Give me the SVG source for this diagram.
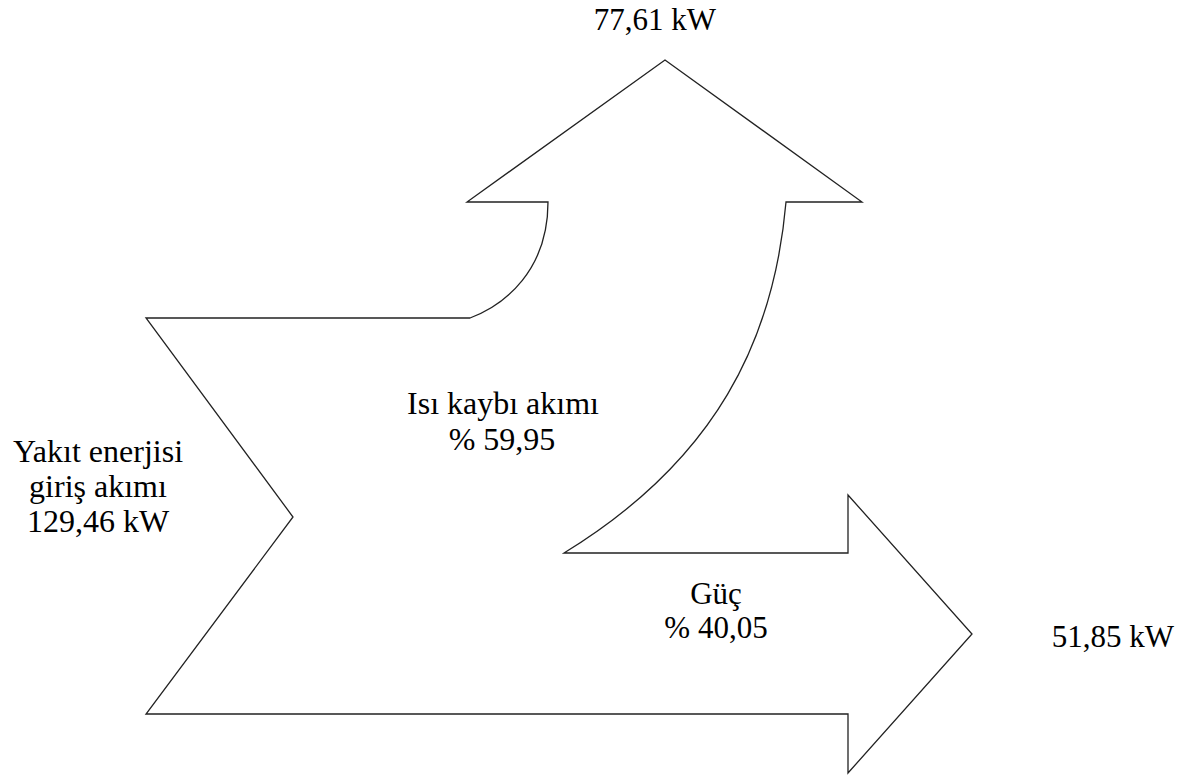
<svg xmlns="http://www.w3.org/2000/svg" width="1200" height="778" viewBox="0 0 1200 778">
<style>
.flow{fill:#ffffff;stroke:#222222;stroke-width:1.3;stroke-linejoin:miter}
.t{font-family:"Liberation Serif","Times New Roman",serif;font-size:31px;fill:#000000;text-anchor:middle}
.big{font-size:32px}
</style>
<rect width="1200" height="778" fill="#ffffff"/>
<g id="flow-shape">
<path class="flow" d="M146,318 L470,318 C505,305 548,270 548,202 L467,202 L665,60 L862,202 L786,202 C774,340 716,460 564,553 L848,553 L848,495 L972,634 L848,773 L848,714 L146,714 L293,517 Z"/>
</g>
<g id="label-input">
<text class="t big" x="98" y="462">Yakıt enerjisi</text>
<text class="t big" x="98" y="497">giriş akımı</text>
<text class="t big" x="98" y="532">129,46 kW</text>
</g>
<g id="label-heat">
<text class="t big" x="503" y="414">Isı kaybı akımı</text>
<text class="t big" x="502" y="450">% 59,95</text>
</g>
<g id="label-heat-out">
<text class="t" x="655" y="30">77,61 kW</text>
</g>
<g id="label-power">
<text class="t" x="716" y="604">Güç</text>
<text class="t" x="716" y="638">% 40,05</text>
</g>
<g id="label-power-out">
<text class="t" x="1113" y="647">51,85 kW</text>
</g>
</svg>
